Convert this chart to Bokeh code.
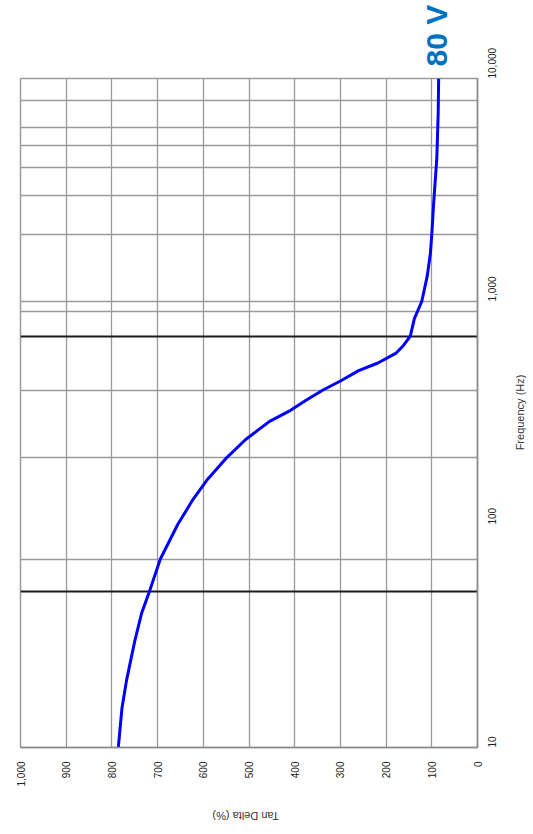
import math
from bokeh.plotting import figure
from bokeh.models import Range1d, FixedTicker, Grid, LinearAxis, LogAxis
from bokeh.embed import file_html
from bokeh.resources import INLINE

# ---- data ----
pulse_x = [10, 15, 20, 30, 40, 50, 70, 100, 130, 160, 200, 240, 290, 325, 360, 400,
           440, 490, 530, 585, 635, 700, 840, 1000, 1300, 1650, 2000, 2750, 4400, 7000, 10000]
level_y = [786, 778, 768, 750, 735, 718, 694, 656, 622, 590, 548, 508, 455, 409, 376, 339,
           300, 260, 218, 179, 162, 147, 138, 122, 110, 103, 100, 96, 89, 86, 85]

value_ticks = [0, 100, 200, 300, 400, 500, 600, 700, 800, 900, 1000]
value_tick_labels = ["0", "100", "200", "300", "400", "500", "600", "700", "800", "900", "1,000"]
log_ticks = [10, 100, 1000, 10000]
log_tick_labels = ["10", "100", "1,000", "10,000"]

grid_value = [100, 200, 300, 400, 500, 600, 700, 800, 900]
grid_log = [70, 200, 400, 900, 1000, 2000, 3000, 4000, 5000, 6000, 8000]
grid_log_dark = [50, 700]

title_text = "80 V"
value_axis_title = "Tan Delta (%)"
log_axis_title = "Frequency (Hz)"

# anchor positions (in data units) of the rotated title texts
title_at_value = 90
value_title_at = 580
log_title_at = 215

FONT = "Liberation Sans"

p = figure(frame_width=457, frame_height=669,
           min_border_left=20, min_border_top=78, min_border_right=48, min_border_bottom=79,
           x_range=Range1d(1000, 0), y_range=Range1d(10, 10000),
           y_axis_type="log", y_axis_location="right",
           output_backend="svg", toolbar_location=None)

p.background_fill_color = "white"
p.border_fill_color = "white"
p.outline_line_color = "#9a9a9a"
p.outline_line_width = 1.5

# value axis (bottom)
xa = p.xaxis[0]
xa.ticker = FixedTicker(ticks=value_ticks)
xa.major_label_overrides = {t: l for t, l in zip(value_ticks, value_tick_labels)}
xa.major_label_orientation = math.pi / 2
# log axis (right)
ya = p.yaxis[0]
ya.ticker = FixedTicker(ticks=log_ticks, minor_ticks=[])
ya.major_label_overrides = {t: l for t, l in zip(log_ticks, log_tick_labels)}
ya.major_label_orientation = math.pi / 2

for ax in (xa, ya):
    ax.major_tick_line_color = None
    ax.minor_tick_line_color = None
    ax.major_tick_out = 0
    ax.major_tick_in = 0
    ax.axis_line_color = "#8a8a8a"
    ax.axis_line_width = 1.5
    ax.major_label_text_font = FONT
    ax.major_label_text_font_size = "10px"
    ax.major_label_text_color = "#222222"
    ax.major_label_standoff = 14


def text_axis(kind, tick, text, orientation, size, color, bold, standoff):
    ax = kind(ticker=FixedTicker(ticks=[tick], minor_ticks=[]),
              major_label_overrides={tick: text},
              major_label_orientation=orientation,
              axis_line_color=None, major_tick_line_color=None, minor_tick_line_color=None,
              major_tick_out=0, major_tick_in=0,
              major_label_text_font=FONT, major_label_text_font_size=size,
              major_label_text_color=color,
              major_label_text_font_style="bold" if bold else "normal",
              major_label_standoff=standoff)
    return ax


p.add_layout(text_axis(LinearAxis, title_at_value, title_text, math.pi / 2,
                       "30px", "#0070c0", True, 12), "above")
p.add_layout(text_axis(LinearAxis, value_title_at, value_axis_title, math.pi,
                       "11px", "#333333", False, 26), "below")
p.add_layout(text_axis(LogAxis, log_title_at, log_axis_title, math.pi / 2,
                       "11px", "#333333", False, 18), "right")

p.xgrid.ticker = FixedTicker(ticks=grid_value)
p.xgrid.grid_line_color = "#9a9a9a"
p.xgrid.grid_line_width = 1.3
p.ygrid.ticker = FixedTicker(ticks=grid_log)
p.ygrid.grid_line_color = "#9a9a9a"
p.ygrid.grid_line_width = 1.3

dark = Grid(dimension=1, ticker=FixedTicker(ticks=grid_log_dark),
            grid_line_color="#1a1a1a", grid_line_width=2)
p.add_layout(dark)

p.line(x=level_y, y=pulse_x, line_color="#0000ff", line_width=3)

open("out.html", "w").write(file_html(p, INLINE))
